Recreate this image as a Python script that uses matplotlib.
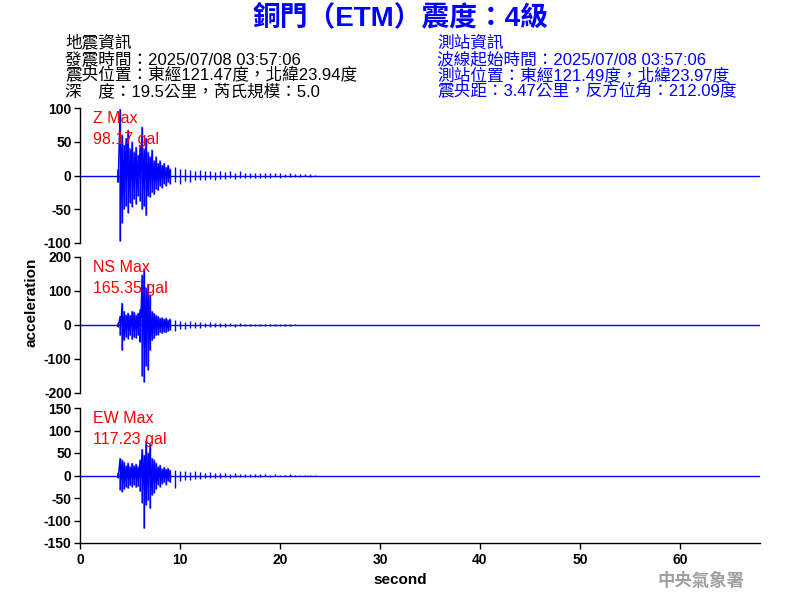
import numpy as np
import matplotlib
matplotlib.use("Agg")
import matplotlib.pyplot as plt

# ---------------- data (envelope, gal) ----------------
times = [3.8, 4.0, 4.2, 4.4, 4.6, 4.8, 5.0, 5.2, 5.4, 5.6, 5.8, 6.0, 6.2, 6.4,
         6.6, 6.8, 7.0, 7.2, 7.4, 7.6, 7.8, 8.0, 8.2, 8.4, 8.6, 8.8, 9.0,
         9.5, 10.0, 10.5, 11.0, 11.5, 12.0, 12.5, 13.0, 13.5, 14.0, 14.5, 15.0,
         15.5, 16.0, 16.5, 17.0, 17.5, 18.0, 18.5, 19.0, 19.5, 20.0, 20.5, 21.0,
         21.5, 22.0, 22.5, 23.0, 23.5, 24.0]

z_hi = [8, 98, 60, 45, 55, 67, 40, 50, 35, 42, 30, 45, 72, 40,
        55, 35, 28, 38, 22, 28, 18, 22, 15, 18, 12, 15, 10,
        12, 9, 10, 8, 7, 8, 6, 7, 5, 6, 5, 6,
        4, 7, 4, 4, 3, 4, 3, 3, 3, 3, 2, 3,
        2, 2, 2, 2, 1, 0]
z_lo = [-10, -97, -70, -50, -45, -55, -40, -46, -35, -42, -30, -38, -50, -45,
        -59, -30, -32, -25, -28, -20, -22, -15, -18, -12, -15, -10, -12,
        -10, -12, -8, -9, -7, -6, -7, -5, -6, -5, -5, -4,
        -5, -4, -4, -3, -4, -3, -3, -3, -2, -3, -2, -2,
        -2, -2, -1, -2, -1, 0]

ns_hi = [5, 25, 64, 40, 30, 35, 28, 40, 38, 30, 35, 45, 147, 165,
         110, 120, 88, 40, 34, 28, 25, 20, 22, 18, 20, 15, 18,
         15, 12, 10, 12, 9, 8, 7, 8, 6, 5, 6, 5,
         4, 5, 4, 3, 3, 4, 3, 3, 2, 3, 2, 2,
         2, 1, 1, 0, 0, 0]
ns_lo = [-5, -30, -74, -45, -35, -40, -30, -42, -35, -38, -30, -50, -150, -167,
         -120, -132, -74, -45, -39, -30, -28, -22, -25, -20, -22, -18, -15,
         -18, -12, -12, -9, -10, -8, -7, -6, -6, -5, -5, -4,
         -5, -4, -3, -4, -3, -3, -3, -2, -3, -2, -2, -2,
         -1, -1, -1, 0, 0, 0]

ew_hi = [5, 38, 35, 30, 22, 28, 20, 27, 22, 25, 20, 35, 58, 45,
         77, 50, 71, 38, 35, 28, 20, 23, 15, 18, 14, 16, 12,
         12, 10, 10, 8, 9, 7, 6, 7, 5, 6, 5, 4,
         5, 4, 3, 4, 3, 3, 3, 2, 3, 2, 2, 3,
         2, 2, 2, 1, 1, 0]
ew_lo = [-5, -32, -36, -30, -25, -28, -22, -25, -20, -26, -24, -35, -60, -117,
         -65, -55, -73, -43, -38, -30, -20, -25, -18, -15, -20, -12, -15,
         -28, -12, -9, -10, -8, -7, -6, -5, -6, -5, -4, -5,
         -4, -3, -4, -3, -3, -3, -2, -3, -2, -2, -2, -2,
         -2, -1, -1, -1, 0, 0]

channels = ["Z", "NS", "EW"]
max_values = [98.17, 165.35, 117.23]
y_limits = [100, 200, 150]
y_ticks = [[100, 50, 0, -50, -100],
           [200, 100, 0, -100, -200],
           [150, 100, 50, 0, -50, -100, -150]]
x_ticks = [0, 10, 20, 30, 40, 50, 60]
x_max = 68
strong_end = 9.0  # strong-motion part drawn as a continuous trace

title = "銅門（ETM）震度：4級"
left_info = ["地震資訊",
             "發震時間：2025/07/08 03:57:06",
             "震央位置：東經121.47度，北緯23.94度",
             "深　度：19.5公里，芮氏規模：5.0"]
right_info = ["測站資訊",
              "波線起始時間：2025/07/08 03:57:06",
              "測站位置：東經121.49度，北緯23.97度",
              "震央距：3.47公里，反方位角：212.09度"]
agency = "中央氣象署"

# ---------------- drawing ----------------
FAM = ["Liberation Sans", "Noto Sans CJK TC", "DejaVu Sans"]
plt.rcParams["font.family"] = FAM

fig = plt.figure(figsize=(8, 6), dpi=100)
fig.patch.set_facecolor("white")

positions = [(0.1, 0.595, 0.85, 0.225),
             (0.1, 0.345, 0.85, 0.2267),
             (0.1, 0.095, 0.85, 0.225)]

his = [z_hi, ns_hi, ew_hi]
los = [z_lo, ns_lo, ew_lo]
BLUE = "#0000ff"

for i, (pos, ch) in enumerate(zip(positions, channels)):
    ax = fig.add_axes(pos)
    t = np.asarray(times, dtype=float)
    hi = np.asarray(his[i], dtype=float)
    lo = np.asarray(los[i], dtype=float)
    ax.axhline(0, color=BLUE, lw=1.0)
    ax.vlines(t, lo, hi, color=BLUE, lw=1.0)
    m = t <= strong_end
    xs = np.repeat(t[m], 2)
    ys = np.column_stack([hi[m], lo[m]]).ravel()
    ax.plot(xs, ys, color=BLUE, lw=0.8)
    lim = y_limits[i]
    ax.set_ylim(-lim, lim)
    ax.set_xlim(0, x_max)
    ax.set_yticks(y_ticks[i])
    ax.set_yticklabels([str(v) for v in y_ticks[i]], fontsize=10,
                       fontweight="bold", family="Liberation Sans")
    for s in ["top", "right"]:
        ax.spines[s].set_visible(False)
    ax.spines["left"].set_linewidth(1.0)
    ax.tick_params(axis="y", direction="out", length=4, width=1, pad=2)
    if i < 2:
        ax.spines["bottom"].set_visible(False)
        ax.set_xticks([])
    else:
        ax.spines["bottom"].set_linewidth(1.0)
        ax.set_xticks(x_ticks)
        ax.set_xticklabels([str(v) for v in x_ticks], fontsize=10,
                           fontweight="bold", family="Liberation Sans")
        ax.tick_params(axis="x", direction="out", length=4, width=1, pad=3)
    ax.text(0.019, 0.975, f"{ch} Max", transform=ax.transAxes, color="red",
            fontsize=11.5, va="top", ha="left", family="Liberation Sans")
    ax.text(0.019, 0.825, f"{max_values[i]:.2f} gal", transform=ax.transAxes,
            color="red", fontsize=11.5, va="top", ha="left",
            family="Liberation Sans")

fig.text(0.5, 1 - 19 / 600, title, ha="center", va="center", color=BLUE,
         fontsize=20, fontweight="bold", family=FAM)

for k, line in enumerate(left_info):
    fig.text(65 / 800, 1 - (43 + 16 * k) / 600, line, ha="left", va="center",
             fontsize=12, color="black", family=FAM)
for k, line in enumerate(right_info):
    fig.text(437 / 800, 1 - (43 + 16 * k) / 600, line, ha="left", va="center",
             fontsize=12, color=BLUE, family=FAM)

fig.text(32 / 800, 1 - 302 / 600, "acceleration", rotation=90, ha="center",
         va="center", fontsize=11, fontweight="bold", family="Liberation Sans")
fig.text(400 / 800, 1 - 580 / 600, "second", ha="center", va="center",
         fontsize=11, fontweight="bold", family="Liberation Sans")
fig.text(701 / 800, 1 - 581 / 600, agency, ha="center", va="center",
         fontsize=12.5, fontweight="bold", color="#a0a0a0",
         family=["Noto Sans CJK TC", "DejaVu Sans"])

fig.savefig("out.png", dpi=100, facecolor="white")
